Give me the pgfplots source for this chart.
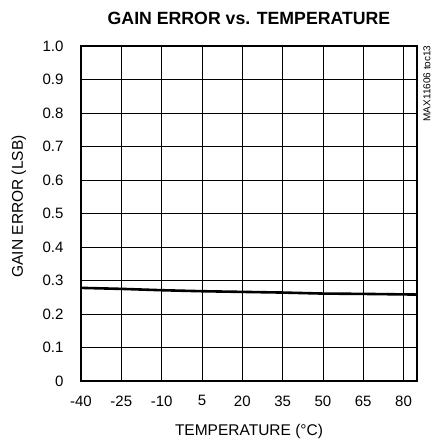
\documentclass[border=0pt]{standalone}
\usepackage{pgfplots}
\pgfplotsset{compat=1.18}
\usepackage{fontspec}
\setmainfont{Liberation Sans}
\begin{document}
\begin{tikzpicture}
\useasboundingbox (-81pt,-63pt) rectangle (351pt,381pt);
\begin{axis}[
  scale only axis,
  width=336pt, height=335pt,
  xmin=-40, xmax=85, ymin=0, ymax=1,
  xtick={-40,-25,-10,5,20,35,50,65,80},
  ytick={0,0.1,0.2,0.3,0.4,0.5,0.6,0.7,0.8,0.9,1.0},
  yticklabels={0,0.1,0.2,0.3,0.4,0.5,0.6,0.7,0.8,0.9,1.0},
  /pgf/number format/assume math mode=true,
  tick style={draw=none},
  grid=major,
  major grid style={black, line width=0.8pt},
  axis line style={black, line width=2.4pt},
  ticklabel style={font=\fontsize{15}{16}\selectfont},
  xticklabel style={yshift=-11pt},
  yticklabel style={xshift=-14pt},
  title={\bfseries GAIN ERROR vs. TEMPERATURE},
  title style={font=\fontsize{17.7}{19}\selectfont, at={(axis description cs:0.5,1.063)}, anchor=center},
  xlabel={TEMPERATURE (°C)},
  ylabel={GAIN ERROR (LSB)},
  label style={font=\fontsize{15.5}{17}\selectfont},
  xlabel style={at={(axis description cs:0.5,-0.152)}, anchor=center},
  ylabel style={at={(axis description cs:-0.185,0.521)}, anchor=center},
  clip=false,
]
\addplot[black, line width=2.6pt] coordinates {
(-40,0.278) (-25,0.275) (-10,0.271) (5,0.268) (20,0.266) (35,0.264) (50,0.261) (65,0.260) (85,0.258)
};
\node[rotate=90, anchor=center, font=\fontsize{10}{11}\selectfont] at ([xshift=10pt, yshift=-37.5pt]rel axis cs:1,1) {MAX11606 toc13};
\end{axis}
\end{tikzpicture}
\end{document}
